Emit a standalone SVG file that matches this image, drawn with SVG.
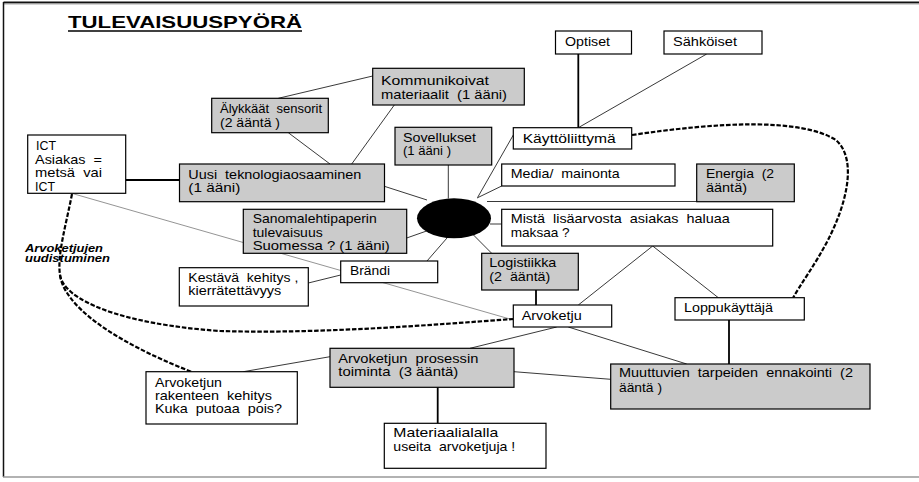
<svg xmlns="http://www.w3.org/2000/svg" width="919" height="482" viewBox="0 0 919 482">
<style>
.w{fill:#fff;stroke:#000;stroke-width:1.2}
.g{fill:#cbcbcb;stroke:#000;stroke-width:1.2}
.t{font-family:"Liberation Sans",Arial,sans-serif;font-size:13px;fill:#000;white-space:pre}
.l{stroke:#222;stroke-width:0.9;fill:none}
.k{stroke:#000;stroke-width:1.8;fill:none}
.d{stroke:#000;stroke-width:2.2;fill:none;stroke-dasharray:4.5 1.8}
.lab{font-family:"Liberation Sans",Arial,sans-serif;font-size:11px;font-weight:bold;font-style:italic;fill:#000}
</style>
<rect x="0" y="0" width="919" height="482" fill="#fff"/>
<g id="frame">
<line x1="3.5" y1="2.5" x2="919" y2="2.5" stroke="#111" stroke-width="2"/>
<line x1="3.5" y1="4" x2="919" y2="4" stroke="#aaa" stroke-width="1"/>
<line x1="3.5" y1="2" x2="3.5" y2="477" stroke="#111" stroke-width="1.5"/>
<line x1="3" y1="477" x2="919" y2="477" stroke="#999" stroke-width="1.5"/>
</g>
<g id="title">
<text x="68" y="27.5" font-family="Liberation Sans,Arial,sans-serif" font-size="16.5" font-weight="bold" textLength="234" lengthAdjust="spacingAndGlyphs">TULEVAISUUSPYÖRÄ</text>
<line x1="68" y1="31" x2="302" y2="31" stroke="#000" stroke-width="1.4"/>
</g>
<g id="label-uudistuminen"><text class="lab" x="25" y="251.7" textLength="78" lengthAdjust="spacingAndGlyphs">Arvoketjujen</text><text class="lab" x="25" y="262" textLength="85" lengthAdjust="spacingAndGlyphs">uudistuminen</text></g>
<g id="connectors">
<path class="k" d="M578.3 54V127.7"/>
<path class="l" d="M706.7 54L578.3 127.7"/>
<path class="l" d="M372.7 76L278.3 98.3"/>
<path class="l" d="M394.3 105L351.7 164"/>
<path class="l" d="M288.3 132.7L330 164"/>
<path class="l" d="M448.3 164.7V198.5"/>
<path class="l" d="M513.3 135L477.7 197.3"/>
<path class="l" d="M501.7 186L477 198"/>
<path class="l" d="M487 201.5H696.7"/>
<path class="l" d="M490 224H501.7"/>
<path class="l" d="M385 186.5L427 200"/>
<path class="l" d="M406.7 238L428 230.5"/>
<path class="l" d="M427 261L447 238"/>
<path class="l" d="M473.5 235L491.7 253.3"/>
<path class="k" d="M125.7 180H179.5"/>
<path d="M71.7 193.3L513.3 320" stroke="#888" stroke-width="0.9" fill="none"/>
<path class="l" d="M308.3 283L340.7 275"/>
<path class="k" d="M536 290V305"/>
<path class="l" d="M652.7 246L578.3 305"/>
<path class="l" d="M652.7 246L718.3 297.7"/>
<path class="k" d="M729 320V364"/>
<path class="l" d="M556.7 327L470 348.3"/>
<path class="l" d="M568.3 327L686.7 364"/>
<path class="l" d="M514 371.7L610.7 379.3"/>
<path class="l" d="M330 356.7L243.3 371.7"/>
<path class="k" d="M437.7 387.3V423.3"/>
<path class="d" d="M632 135C720 122 800 118 836 140C858 160 846 205 828 240C815 265 800 285 793 298"/>
<path class="d" d="M72 194C66 225 57 255 60 275C64 300 120 324 220 331C320 334 430 325 513 319"/>
<path class="d" d="M60 275C64 305 110 340 192 372"/>
</g>
<g id="n-optiset"><rect class="w" x="555.5" y="31" width="76" height="23"/><text class="t" x="565" y="46" textLength="45" lengthAdjust="spacingAndGlyphs">Optiset</text></g>
<g id="n-sahkoiset"><rect class="w" x="664" y="31" width="98" height="23"/><text class="t" x="673" y="46" textLength="64" lengthAdjust="spacingAndGlyphs">Sähköiset</text></g>
<g id="n-kommunikoivat"><rect class="g" x="372.7" y="68.3" width="151.6" height="36.7"/><text class="t" x="381" y="85" textLength="108" lengthAdjust="spacingAndGlyphs">Kommunikoivat</text><text class="t" x="381" y="98.5" textLength="126" lengthAdjust="spacingAndGlyphs">materiaalit  (1 ääni)</text></g>
<g id="n-alykkaat"><rect class="g" x="211.7" y="98.3" width="116.6" height="34.4"/><text class="t" x="220" y="113.3" textLength="102" lengthAdjust="spacingAndGlyphs">Älykkäät  sensorit</text><text class="t" x="220" y="126.7" textLength="60" lengthAdjust="spacingAndGlyphs">(2 ääntä )</text></g>
<g id="n-sovellukset"><rect class="g" x="395" y="127.3" width="96.7" height="37.7"/><text class="t" x="403" y="141.7" textLength="73" lengthAdjust="spacingAndGlyphs">Sovellukset</text><text class="t" x="403" y="155" textLength="48" lengthAdjust="spacingAndGlyphs">(1 ääni )</text></g>
<g id="n-kayttoliittyma"><rect class="w" x="513.3" y="127.7" width="118.4" height="21.3"/><text class="t" x="522.7" y="142.5" textLength="93" lengthAdjust="spacingAndGlyphs">Käyttöliittymä</text></g>
<g id="n-ict"><rect class="w" x="27.7" y="135" width="98" height="58.3"/><text class="t" x="36" y="150" textLength="20" lengthAdjust="spacingAndGlyphs">ICT</text><text class="t" x="35" y="163.7" textLength="67" lengthAdjust="spacingAndGlyphs">Asiakas  =</text><text class="t" x="35" y="177.4" textLength="67" lengthAdjust="spacingAndGlyphs">metsä  vai</text><text class="t" x="35" y="191" textLength="20" lengthAdjust="spacingAndGlyphs">ICT</text></g>
<g id="n-uusi"><rect class="g" x="179.5" y="164" width="205" height="37.7"/><text class="t" x="188.3" y="179" textLength="173" lengthAdjust="spacingAndGlyphs">Uusi  teknologiaosaaminen</text><text class="t" x="188.3" y="192.3" textLength="52" lengthAdjust="spacingAndGlyphs">(1 ääni)</text></g>
<g id="n-media"><rect class="w" x="501.7" y="164" width="173.3" height="22"/><text class="t" x="510.7" y="178.3" textLength="109" lengthAdjust="spacingAndGlyphs">Media/  mainonta</text></g>
<g id="n-energia"><rect class="g" x="696.7" y="164" width="97.6" height="37.7"/><text class="t" x="706" y="178" textLength="68" lengthAdjust="spacingAndGlyphs">Energia  (2</text><text class="t" x="706" y="191.7" textLength="41" lengthAdjust="spacingAndGlyphs">ääntä)</text></g>
<g id="n-center"><ellipse cx="454" cy="218.3" rx="37" ry="20" fill="#000"/></g>
<g id="n-sanomalehti"><rect class="g" x="243.3" y="209.3" width="163.4" height="44"/><text class="t" x="252.7" y="223.3" textLength="124" lengthAdjust="spacingAndGlyphs">Sanomalehtipaperin</text><text class="t" x="252.7" y="236.7" textLength="70" lengthAdjust="spacingAndGlyphs">tulevaisuus</text><text class="t" x="252.7" y="250" textLength="137" lengthAdjust="spacingAndGlyphs">Suomessa ? (1 ääni)</text></g>
<g id="n-mista"><rect class="w" x="501.7" y="209.3" width="271" height="36.7"/><text class="t" x="510.7" y="223.3" textLength="219" lengthAdjust="spacingAndGlyphs">Mistä  lisäarvosta  asiakas  haluaa</text><text class="t" x="510.7" y="236.7" textLength="59" lengthAdjust="spacingAndGlyphs">maksaa ?</text></g>
<g id="n-brandi"><rect class="w" x="340.7" y="261" width="97" height="21.7"/><text class="t" x="350" y="275" textLength="40" lengthAdjust="spacingAndGlyphs">Brändi</text></g>
<g id="n-kestava"><rect class="w" x="179.3" y="267.7" width="129" height="38.3"/><text class="t" x="188.3" y="281.7" textLength="110" lengthAdjust="spacingAndGlyphs">Kestävä  kehitys ,</text><text class="t" x="188.3" y="295" textLength="93" lengthAdjust="spacingAndGlyphs">kierrätettävyys</text></g>
<g id="n-logistiikka"><rect class="g" x="481.7" y="253.3" width="96.6" height="36.7"/><text class="t" x="489.3" y="267.3" textLength="67" lengthAdjust="spacingAndGlyphs">Logistiikka</text><text class="t" x="489.3" y="280.7" textLength="61" lengthAdjust="spacingAndGlyphs">(2  ääntä)</text></g>
<g id="n-arvoketju"><rect class="w" x="513.3" y="305" width="98.4" height="22"/><text class="t" x="521.7" y="320" textLength="60" lengthAdjust="spacingAndGlyphs">Arvoketju</text></g>
<g id="n-loppukayttaja"><rect class="w" x="675" y="297.7" width="129.3" height="22.3"/><text class="t" x="684" y="311.7" textLength="89" lengthAdjust="spacingAndGlyphs">Loppukäyttäjä</text></g>
<g id="n-prosessi"><rect class="g" x="330" y="348.3" width="184" height="39"/><text class="t" x="338.3" y="362.5" textLength="140" lengthAdjust="spacingAndGlyphs">Arvoketjun  prosessin</text><text class="t" x="338.3" y="376" textLength="120" lengthAdjust="spacingAndGlyphs">toiminta  (3 ääntä)</text></g>
<g id="n-muuttuvien"><rect class="g" x="610.7" y="364" width="259.3" height="45"/><text class="t" x="619" y="377.3" textLength="234" lengthAdjust="spacingAndGlyphs">Muuttuvien  tarpeiden  ennakointi  (2</text><text class="t" x="619" y="391.7" textLength="43" lengthAdjust="spacingAndGlyphs">ääntä )</text></g>
<g id="n-rakenne"><rect class="w" x="146" y="371.7" width="151.3" height="52.3"/><text class="t" x="155" y="386.7" textLength="67" lengthAdjust="spacingAndGlyphs">Arvoketjun</text><text class="t" x="155" y="400" textLength="117" lengthAdjust="spacingAndGlyphs">rakenteen  kehitys</text><text class="t" x="155" y="413.3" textLength="127" lengthAdjust="spacingAndGlyphs">Kuka  putoaa  pois?</text></g>
<g id="n-materiaali"><rect class="w" x="384.3" y="423.3" width="161.7" height="45"/><text class="t" x="393.3" y="437.3" textLength="105" lengthAdjust="spacingAndGlyphs">Materiaalialalla</text><text class="t" x="393.3" y="450.7" textLength="122" lengthAdjust="spacingAndGlyphs">useita  arvoketjuja !</text></g>
</svg>
